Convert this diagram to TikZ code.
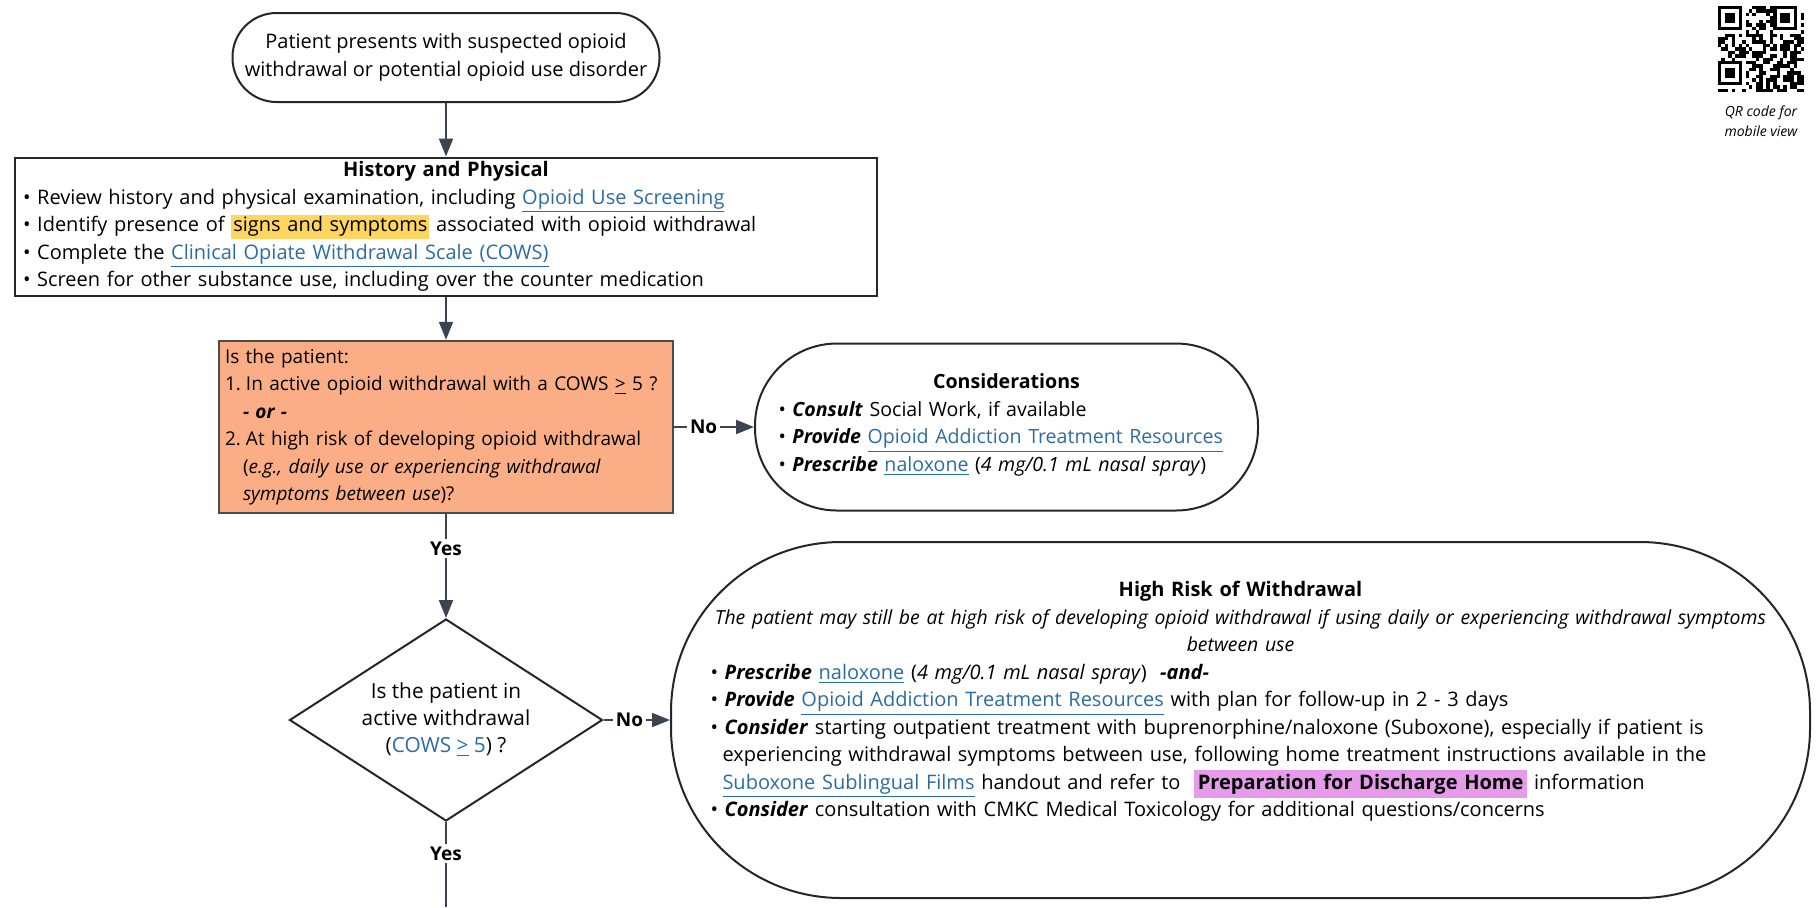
\documentclass[tikz,border=0pt]{standalone}
\usepackage{fontspec}
\setmainfont{Open Sans}
\usepackage{xcolor}
\usepackage{tikz}
\usetikzlibrary{arrows.meta,positioning,shapes.geometric}
\definecolor{linkcol}{RGB}{43,108,163}
\definecolor{askcol}{RGB}{251,174,133}
\definecolor{hlyellow}{RGB}{253,213,95}
\definecolor{hlpink}{RGB}{229,155,233}
\definecolor{arrowcol}{RGB}{59,68,82}
\newcommand{\lnk}[1]{\textcolor{linkcol}{\underline{#1}}}
\newcommand{\hlmark}[3]{{\setlength{\fboxsep}{#1}\colorbox{#2}{#3}}}
\newcommand{\cowsge}{\underline{>}}
\newcommand{\bul}{\textbullet\ }
\newcommand{\bi}[1]{\textbf{\textit{#1}}}

\begin{document}
\begin{tikzpicture}[
  x=0.5pt, y=-0.5pt,
  font=\fontsize{10}{13.75}\selectfont,
  every node/.style={inner sep=0pt},
  box/.style={draw=black!85, line width=1pt},
  term/.style={box, rounded corners=#1},
  ask/.style={box, fill=askcol, draw=black!70, font=\fontsize{9.5}{13.75}\selectfont},
  gate/.style={box, diamond, aspect=1.55, align=center, font=\fontsize{10.4}{13.5}\selectfont},
  flow/.style={-{Triangle[length=9pt, width=7pt]}, line width=1pt, draw=arrowcol},
  wire/.style={line width=1pt, draw=arrowcol},
  lbl/.style={font=\fontsize{9.5}{11}\selectfont\bfseries, fill=white, inner sep=1.5pt},
  ]
  \useasboundingbox (0,0) rectangle (1818,907);

  \node[term=22pt, minimum width=213.5pt, minimum height=44.5pt, align=center] (start) at (446,57.5)
    {Patient presents with suspected opioid\\ withdrawal or potential opioid use disorder\rule[-2pt]{0pt}{0pt}};

  \node[box, text width=423pt, inner xsep=4pt, inner ysep=2pt, align=left] (hp) at (446,226.5) {
    {\centering\bfseries History and Physical\par}
    \bul Review history and physical examination, including \lnk{Opioid Use Screening}\\
    \bul Identify presence of \hlmark{1pt}{hlyellow}{signs and symptoms} associated with opioid withdrawal\\
    \bul Complete the \lnk{Clinical Opiate Withdrawal Scale (COWS)}\\
    \bul Screen for other substance use, including over the counter medication};

  \node[ask, text width=221pt, inner xsep=3pt, inner ysep=4pt, align=left] (q1) at (446,427) {
    Is the patient:\\
    \makebox[10.5pt][l]{1.}In active opioid withdrawal with a COWS \cowsge\ 5 ?\\
    \hspace*{9pt}\bi{- or -}\\
    \makebox[10.5pt][l]{2.}At high risk of developing opioid withdrawal\\
    \hspace*{9pt}(\textit{e.g., daily use or experiencing withdrawal}\\
    \hspace*{9pt}\textit{symptoms between use})?};

  \node[term=41pt, minimum width=251.5pt, minimum height=83.5pt, text width=228pt, align=left,
        font=\fontsize{9.8}{13.75}\selectfont] (cons) at (1006.5,427) {
    {\centering\bfseries Considerations\par}
    \bul\bi{Consult} Social Work, if available\\
    \bul\bi{Provide} \lnk{Opioid Addiction Treatment Resources}\\
    \bul\bi{Prescribe} \lnk{naloxone} (\textit{4 mg/0.1 mL nasal spray})\rule[-4.5pt]{0pt}{0pt}};

  \node[gate, minimum width=156.5pt, minimum height=101pt] (q2) at (446,720)
    {Is the patient in\\ active withdrawal\\ (\textcolor{linkcol}{COWS \cowsge\ 5}) ?};

  \node[term=85pt, minimum width=569.5pt, minimum height=178pt, text width=530pt, align=left] (hr) at (1240.5,720) {
    {\centering\bfseries High Risk of Withdrawal\par}
    {\centering\fontsize{9.7}{13.75}\selectfont\itshape The patient may still be at high risk of developing opioid withdrawal if using daily or experiencing withdrawal symptoms\\ between use\par}
    \bul\bi{Prescribe} \lnk{naloxone} (\textit{4 mg/0.1 mL nasal spray})\ \ \bi{-and-}\\
    \bul\bi{Provide} \lnk{Opioid Addiction Treatment Resources} with plan for follow-up in 2 - 3 days\\
    \bul\bi{Consider} starting outpatient treatment with buprenorphine/naloxone (Suboxone), especially if patient is\\
    \hspace*{0.6em}experiencing withdrawal symptoms between use, following home treatment instructions available in the\\
    \hspace*{0.6em}\lnk{Suboxone Sublingual Films} handout and refer to \ \hlmark{2pt}{hlpink}{\textbf{Preparation for Discharge Home}} information\\
    \bul\bi{Consider} consultation with CMKC Medical Toxicology for additional questions/concerns\rule[-21pt]{0pt}{0pt}};

  % QR code for mobile view
  \pgfmathsetseed{11}
  \foreach \i in {0,...,24}{
    \foreach \j in {0,...,24}{
      \pgfmathrandominteger{\bit}{0}{1}
      \ifnum\bit=1 \fill (1718+\i*3.44,6+\j*3.44) rectangle ++(3.44,3.44); \fi
    }
  }
  \foreach \cx/\cy in {1718/6, 1773.04/6, 1718/61.04}{
    \fill[white] (\cx,\cy) rectangle ++(27.52,27.52);
    \fill (\cx,\cy) rectangle ++(24.08,24.08);
    \fill[white] (\cx+3.44,\cy+3.44) rectangle ++(17.2,17.2);
    \fill (\cx+6.88,\cy+6.88) rectangle ++(10.32,10.32);
  }
  \node[font=\fontsize{7}{10}\selectfont\itshape, align=center] (qrcap) at (1761,121) {QR code for\\ mobile view};

  \draw[flow] (start) -- (hp);
  \draw[flow] (hp) -- (q1);
  \draw[flow] (q1) -- node[lbl, pos=0.33] {Yes} (q2);
  \draw[flow] (q1) -- node[lbl, pos=0.37] {No} (cons);
  \draw[flow] (q2) -- node[lbl, pos=0.39] {No} (hr);
  \coordinate (down) at (446,907);
  \draw[wire] (q2) -- node[lbl, pos=0.37] {Yes} (down);
\end{tikzpicture}
\end{document}
